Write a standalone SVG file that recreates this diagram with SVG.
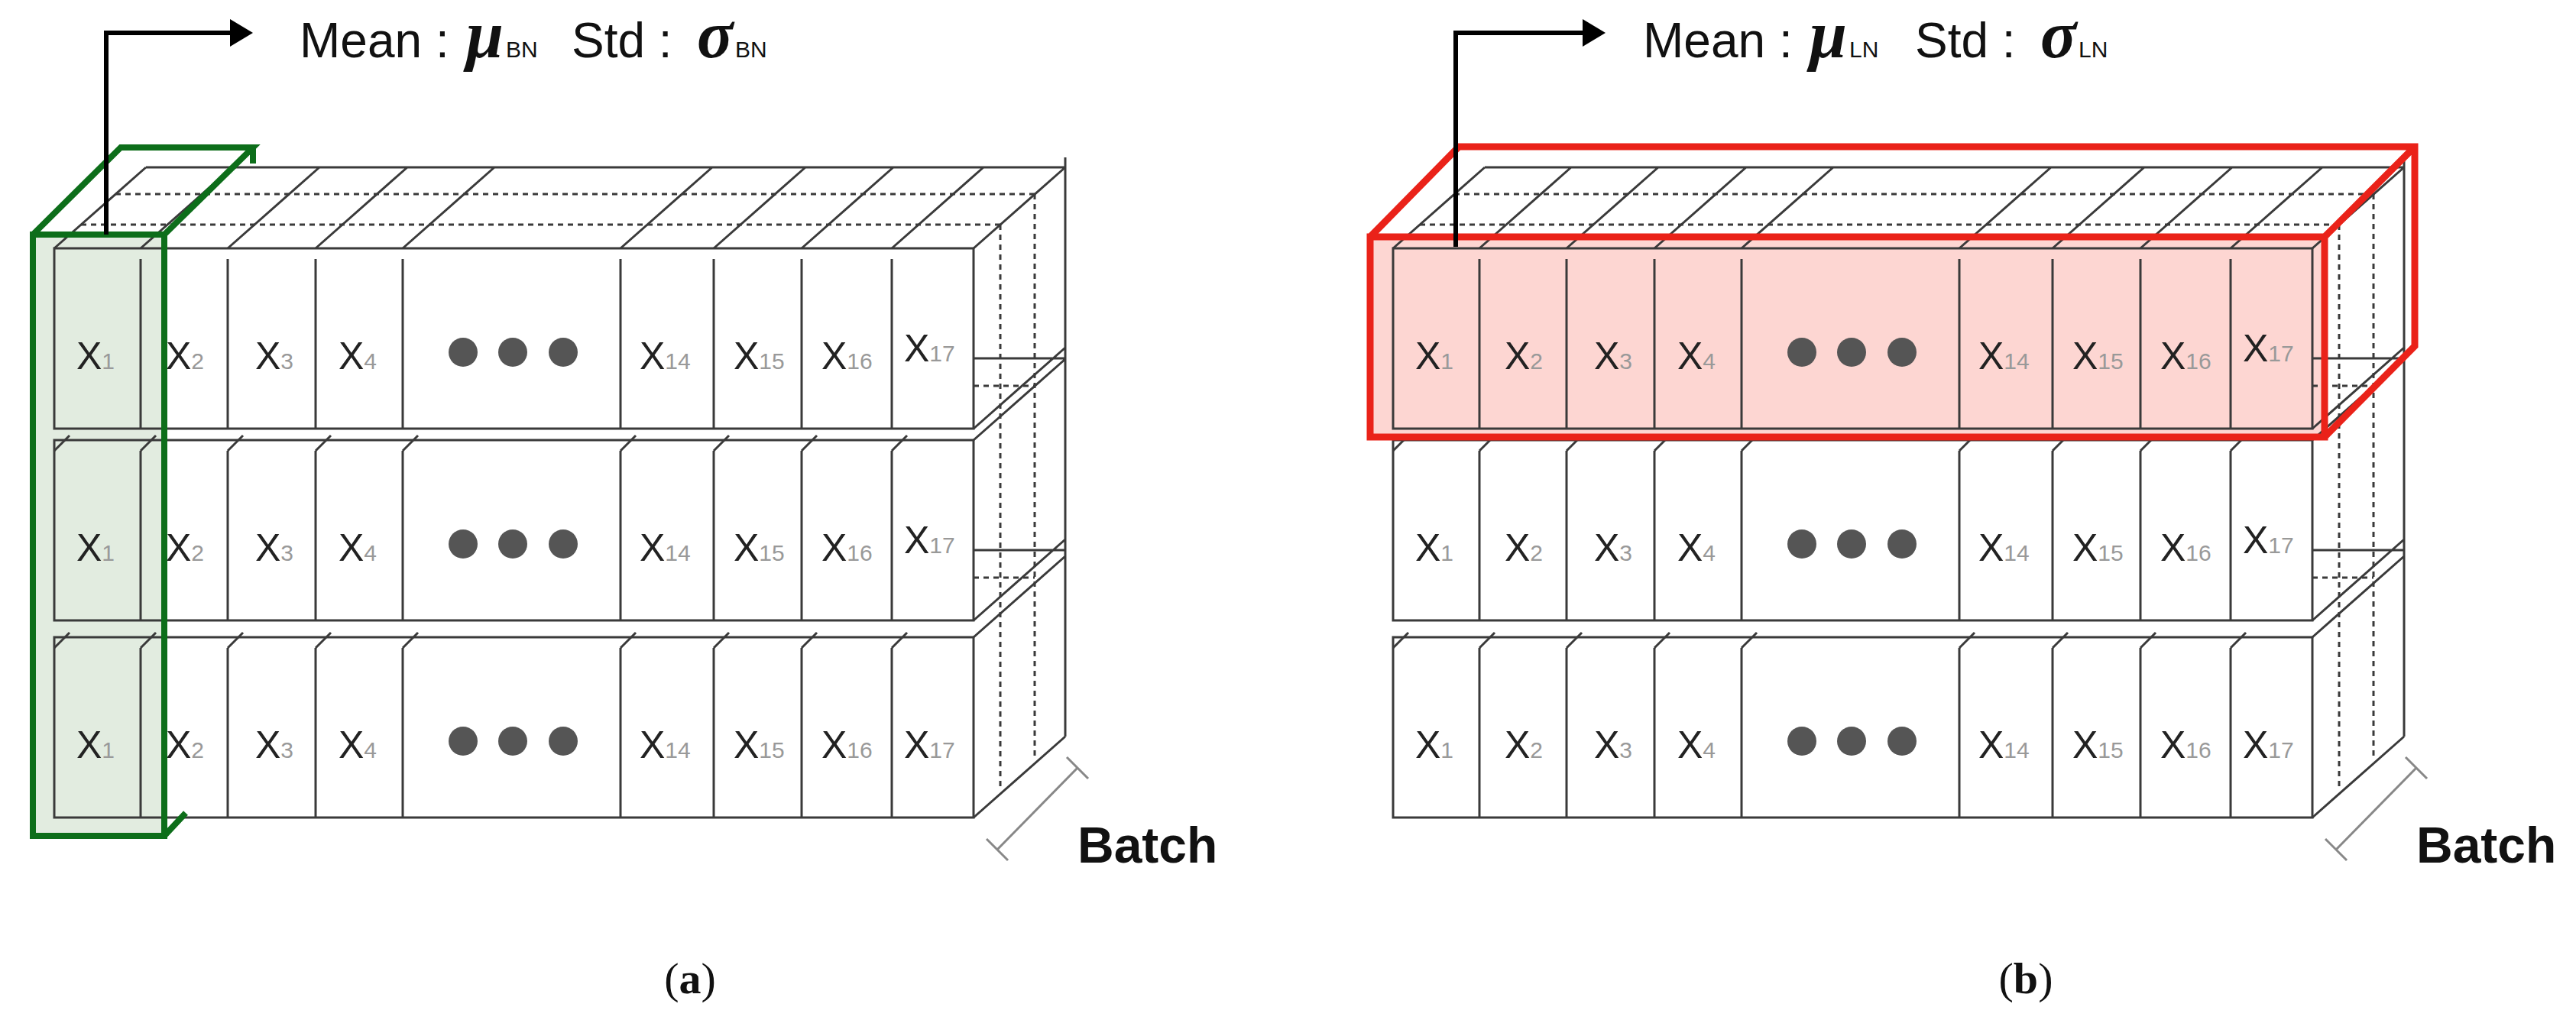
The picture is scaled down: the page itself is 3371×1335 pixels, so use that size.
<svg xmlns="http://www.w3.org/2000/svg" xmlns:xlink="http://www.w3.org/1999/xlink" width="3371" height="1335" viewBox="0 0 3371 1335">
<style>
.ln{stroke:#3a3a3a;stroke-width:3;fill:none}
.dt{stroke:#3a3a3a;stroke-width:3;fill:none;stroke-dasharray:7 6}
.x{font-family:"Liberation Sans",Arial,sans-serif;font-size:50px;fill:#222}
.s{font-size:30px;fill:#999}
.dot{fill:#555}
.hd{font-family:"Liberation Sans",Arial,sans-serif;font-size:64px;fill:#111}
.gk{font-family:"Liberation Serif","DejaVu Serif",serif;font-size:88px;font-weight:bold;font-style:italic;fill:#111}
.sb{font-family:"Liberation Sans",Arial,sans-serif;font-size:30px;fill:#111}
.bt{font-family:"Liberation Sans",Arial,sans-serif;font-size:66px;font-weight:bold;fill:#111}
.cap{font-family:"Liberation Serif","Times New Roman",serif;font-size:58px;fill:#111;text-anchor:middle}
.arr{stroke:#000;stroke-width:6;fill:none}
</style>
<defs>
<marker id="ah" markerWidth="6" markerHeight="6" refX="4" refY="3" orient="auto" markerUnits="strokeWidth"><path d="M0,0 L5,3 L0,6 z" fill="#000"/></marker>
<g id="grid">
<path class="ln" d="M191,219 H1394 M71,325 l120,-106 M184,325 l120,-106 M298,325 l120,-106 M413,325 l120,-106 M527,325 l120,-106 M812,325 l120,-106 M934,325 l120,-106 M1049,325 l120,-106 M1167,325 l120,-106 M1274,325 l120,-106"/>
<path class="dt" d="M106,294 H1309 M151,254 H1354 M1309,294 V1035 M1354,254 V995 M1274,505 H1354 M1274,756 H1354"/>
<path class="ln" d="M1394,206 V964 M1274,561 l120,-106 M1274,576 l120,-106 M1274,812 l120,-106 M1274,834 l120,-106 M1274,1070 l120,-106 M1274,469 H1394 M1274,720 H1394"/>
<path class="ln" d="M71,325 H1274 V561 H71 Z M71,576 H1274 V812 H71 Z M71,834 H1274 V1070 H71 Z"/>
<path class="ln" d="M184,339 V561 M298,339 V561 M413,339 V561 M527,339 V561 M812,339 V561 M934,339 V561 M1049,339 V561 M1167,339 V561
M184,590 V812 M298,590 V812 M413,590 V812 M527,590 V812 M812,590 V812 M934,590 V812 M1049,590 V812 M1167,590 V812
M184,848 V1070 M298,848 V1070 M413,848 V1070 M527,848 V1070 M812,848 V1070 M934,848 V1070 M1049,848 V1070 M1167,848 V1070"/>
<path class="ln" d="M71,590 l20,-20 M184,590 l20,-20 M298,590 l20,-20 M413,590 l20,-20 M527,590 l20,-20 M812,590 l20,-20 M934,590 l20,-20 M1049,590 l20,-20 M1167,590 l20,-20
M71,848 l20,-20 M184,848 l20,-20 M298,848 l20,-20 M413,848 l20,-20 M527,848 l20,-20 M812,848 l20,-20 M934,848 l20,-20 M1049,848 l20,-20 M1167,848 l20,-20"/>
<g id="row">
<text class="x" x="100" y="483">X<tspan class="s">1</tspan></text>
<text class="x" x="217" y="483">X<tspan class="s">2</tspan></text>
<text class="x" x="334" y="483">X<tspan class="s">3</tspan></text>
<text class="x" x="443" y="483">X<tspan class="s">4</tspan></text>
<circle class="dot" cx="606" cy="461" r="19"/><circle class="dot" cx="671" cy="461" r="19"/><circle class="dot" cx="737" cy="461" r="19"/>
<text class="x" x="837" y="483">X<tspan class="s">14</tspan></text>
<text class="x" x="960" y="483">X<tspan class="s">15</tspan></text>
<text class="x" x="1075" y="483">X<tspan class="s">16</tspan></text>
</g>
<text class="x" x="1183" y="473">X<tspan class="s">17</tspan></text>
<use xlink:href="#row" y="251"/>
<text class="x" x="1183" y="724">X<tspan class="s">17</tspan></text>
<use xlink:href="#row" y="509"/>
<text class="x" x="1183" y="992">X<tspan class="s">17</tspan></text>
<path d="M1305,1112 L1410,1005 M1291,1098 l28,28 M1396,991 l28,28" stroke="#888" stroke-width="3" fill="none"/>
<text class="bt" x="1410" y="1129">Batch</text>
</g>
</defs>

<g id="panel-a">
<rect x="43" y="307" width="172" height="787" fill="#e2ece0"/>
<use xlink:href="#grid"/>
<path d="M43,307 H215 V1094 H43 Z M43,307 L158,193 H331 L215,307 M331,193 V214 M215,1094 l28,-30" stroke="#0d6e1a" stroke-width="8" fill="none"/>
</g>
<g id="panel-b">
<rect x="1793" y="310" width="1249" height="262" fill="#fdd6d2"/>
<use xlink:href="#grid" x="1752"/>
<path d="M1793,310 H3042 V572 H1793 Z M1793,310 L1909,192 H3160 V453 L3042,572 M3042,310 L3160,192" stroke="#ea2219" stroke-width="9" fill="none" stroke-linejoin="miter"/>
</g>
<g id="connectors">
<path class="arr" d="M139,307 V43 H325" marker-end="url(#ah)"/>
<path class="arr" d="M1905,323 V43 H2095" marker-end="url(#ah)"/>
</g>
<g id="label-a">
<text class="hd" x="392" y="75">Mean :</text>
<text class="gk" x="610" y="75">μ</text>
<text class="sb" x="662" y="75">BN</text>
<text class="hd" x="748" y="75">Std :</text>
<text class="gk" x="912" y="75">σ</text>
<text class="sb" x="962" y="75">BN</text>
</g>
<g id="label-b">
<text class="hd" x="2150" y="75">Mean :</text>
<text class="gk" x="2368" y="75">μ</text>
<text class="sb" x="2420" y="75">LN</text>
<text class="hd" x="2506" y="75">Std :</text>
<text class="gk" x="2670" y="75">σ</text>
<text class="sb" x="2720" y="75">LN</text>
</g>
<text class="cap" x="903" y="1300">(<tspan font-weight="bold">a</tspan>)</text>
<text class="cap" x="2651" y="1300">(<tspan font-weight="bold">b</tspan>)</text>
</svg>
